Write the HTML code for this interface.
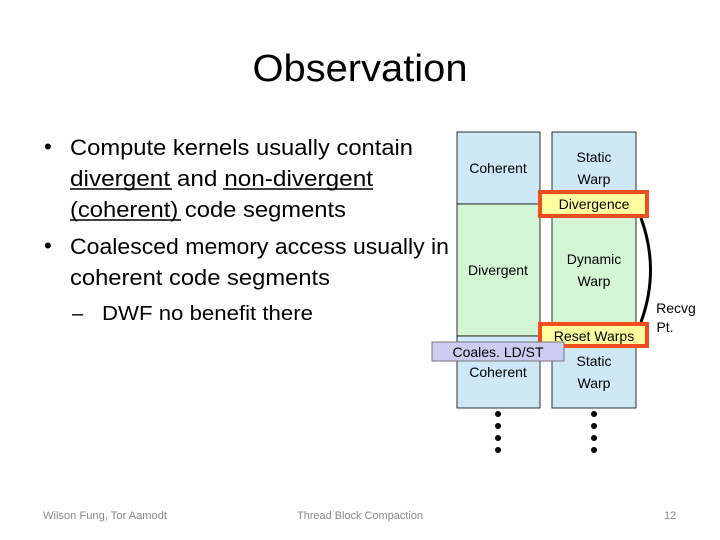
<!DOCTYPE html>
<html><head><meta charset="utf-8"><style>
html,body{margin:0;padding:0;background:#fff;}
svg{display:block;}
text{font-family:"Liberation Sans",sans-serif;}
</style></head><body>
<svg width="720" height="540" viewBox="0 0 720 540" xmlns="http://www.w3.org/2000/svg">
<text x="360" y="81" font-size="38" text-anchor="middle" textLength="215" lengthAdjust="spacingAndGlyphs">Observation</text>
<g font-size="22" fill="#000">
<text x="44" y="154" font-size="22">•</text>
<text x="70" y="155" textLength="343" lengthAdjust="spacingAndGlyphs">Compute kernels usually contain</text>
<text x="70" y="186" textLength="303" lengthAdjust="spacingAndGlyphs">divergent and non-divergent</text>
<text x="70" y="217" textLength="276" lengthAdjust="spacingAndGlyphs">(coherent) code segments</text>
<text x="44" y="253">•</text>
<text x="70" y="254" textLength="379" lengthAdjust="spacingAndGlyphs">Coalesced memory access usually in</text>
<text x="70" y="285" textLength="260" lengthAdjust="spacingAndGlyphs">coherent code segments</text>
<text x="72" y="320" font-size="20">–</text>
<text x="102" y="320" font-size="20" textLength="211" lengthAdjust="spacingAndGlyphs">DWF no benefit there</text>
</g>
<g stroke="#000" stroke-width="1.5">
<line x1="70" y1="189" x2="172" y2="189"/>
<line x1="223" y1="189" x2="373" y2="189"/>
<line x1="70" y1="220" x2="181" y2="220"/>
</g>
<!-- left column -->
<rect x="457" y="132" width="83" height="72" fill="#cfe8f8" stroke="#000" stroke-width="0.8"/>
<rect x="457" y="204" width="83" height="132" fill="#d4f5d4" stroke="#000" stroke-width="0.8"/>
<rect x="457" y="336" width="83" height="72" fill="#cfe8f8" stroke="#000" stroke-width="0.8"/>
<!-- right column -->
<rect x="552" y="132" width="84" height="72" fill="#cfe8f8" stroke="#000" stroke-width="0.8"/>
<rect x="552" y="204" width="84" height="132" fill="#d4f5d4" stroke="#000" stroke-width="0.8"/>
<rect x="552" y="336" width="84" height="72" fill="#cfe8f8" stroke="#000" stroke-width="0.8"/>
<path d="M641 218 Q660 270 641 322" fill="none" stroke="#000" stroke-width="3"/>
<rect x="540" y="192" width="107" height="24" fill="#ffffa0" stroke="#f04e1e" stroke-width="4"/>
<rect x="540" y="324" width="107" height="22" fill="#ffffa0" stroke="#f04e1e" stroke-width="4"/>
<rect x="432" y="342" width="132" height="19" fill="#ccccf2" stroke="#777" stroke-width="1"/>
<g font-size="14" text-anchor="middle">
<text x="498" y="173">Coherent</text>
<text x="498" y="275">Divergent</text>
<text x="498" y="377">Coherent</text>
<text x="594" y="162">Static</text>
<text x="594" y="184">Warp</text>
<text x="594" y="209">Divergence</text>
<text x="594" y="264">Dynamic</text>
<text x="594" y="286">Warp</text>
<text x="594" y="341">Reset Warps</text>
<text x="498" y="357">Coales. LD/ST</text>
<text x="594" y="366">Static</text>
<text x="594" y="388">Warp</text>
<text x="676" y="313">Recvg</text>
<text x="665" y="332">Pt.</text>
</g>
<g fill="#000">
<circle cx="498" cy="414" r="3"/><circle cx="498" cy="426" r="3"/><circle cx="498" cy="438" r="3"/><circle cx="498" cy="450" r="3"/>
<circle cx="594" cy="414" r="3"/><circle cx="594" cy="426" r="3"/><circle cx="594" cy="438" r="3"/><circle cx="594" cy="450" r="3"/>
</g>
<g font-size="11" fill="#888">
<text x="43" y="519" textLength="124" lengthAdjust="spacingAndGlyphs">Wilson Fung, Tor Aamodt</text>
<text x="297" y="519" textLength="126" lengthAdjust="spacingAndGlyphs">Thread Block Compaction</text>
<text x="664" y="519">12</text>
</g>
</svg>
</body></html>
